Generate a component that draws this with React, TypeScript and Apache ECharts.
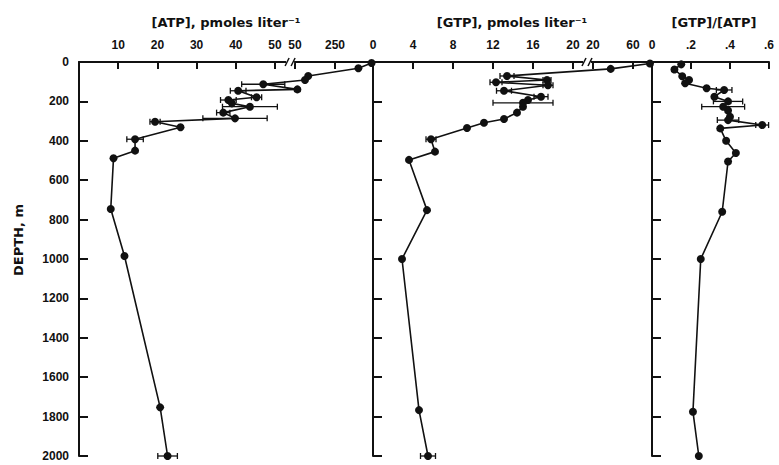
import React, { useEffect, useRef } from "react";
import * as echarts from "echarts";

// ---------- data ----------
const depthMin = 0;
const depthMax = 2000;
const depthStep = 200;

// ATP, pmoles/liter
const atpDepth = [5, 32, 71, 91, 113, 139, 146, 179, 193, 210, 227, 257, 286, 303, 331, 392, 450, 489, 746, 985, 1753, 2000];
const atpValue = [433, 367, 116, 100, 47.0, 62, 40.6, 45.3, 38.1, 39.0, 43.6, 36.8, 39.8, 19.4, 25.9, 14.3, 14.3, 8.8, 8.1, 11.6, 20.7, 22.6];
const atpErr = [0, 0, 0, 0, 5.5, 0, 2, 1.3, 2, 0, 7, 1.7, 8.2, 1.3, 0, 2.1, 0, 0, 0, 0, 0, 2.5];

// GTP, pmoles/liter
const gtpDepth = [8, 35, 71, 91, 103, 118, 146, 176, 193, 207, 227, 257, 289, 308, 335, 392, 455, 497, 752, 1000, 1767, 2000];
const gtpValue = [77, 37.7, 13.4, 17.4, 12.3, 17.5, 13.1, 16.8, 15.5, 15.0, 15.0, 14.4, 13.1, 11.1, 9.4, 5.8, 6.2, 3.6, 5.4, 2.9, 4.6, 5.5];
const gtpErr = [0, 0, 0.7, 0.4, 0.6, 0.5, 0.75, 0.7, 0, 3.0, 0, 0, 0, 0, 0, 0.5, 0, 0, 0, 0, 0, 0.75];

// GTP/ATP ratio
const ratioDepth = [12, 38, 72, 91, 108, 133, 142, 176, 200, 227, 246, 278, 295, 320, 337, 400, 462, 505, 760, 1000, 1775, 2000];
const ratioValue = [0.15, 0.115, 0.155, 0.19, 0.17, 0.28, 0.37, 0.32, 0.39, 0.365, 0.39, 0.40, 0.39, 0.565, 0.35, 0.38, 0.43, 0.39, 0.36, 0.25, 0.21, 0.24];
const ratioErr = [0, 0, 0, 0, 0, 0, 0.04, 0, 0.075, 0.11, 0, 0, 0.055, 0.033, 0, 0, 0, 0, 0, 0, 0, 0];

// tick labels of the broken axes
const atpLowerTicks = [10, 20, 30, 40, 50];
const atpUpperTicks = [50, 250];
const gtpLowerTicks = [0, 4, 8, 12, 16, 20];
const gtpUpperTicks = [20, 60];
const ratioTicks = [0, 0.2, 0.4, 0.6];

// ---------- broken-axis transforms ----------
const ATP_SPLIT = 53;
const ATP_UP0 = 55.1; // axis position of the upper segment's "50"
const ATP_UP_SCALE = 19.6; // value units per axis unit in upper segment
const ATP_MAX = 75;
const atpUp = (v: number) => ATP_UP0 + (v - 50) / ATP_UP_SCALE;
const tA = (v: number) => (v <= ATP_SPLIT ? v : atpUp(v));

const GTP_SPLIT = 21;
const GTP_UP0 = 22;
const GTP_UP_SCALE = 10;
const GTP_MAX = 27.9;
const gtpUp = (v: number) => GTP_UP0 + (v - 20) / GTP_UP_SCALE;
const tG = (v: number) => (v <= GTP_SPLIT ? v : gtpUp(v));

const atpTickPos = [...atpLowerTicks, ...atpUpperTicks.map(atpUp)];
const atpTickLab = [...atpLowerTicks, ...atpUpperTicks].map(String);
const gtpTickPos = [...gtpLowerTicks, ...gtpUpperTicks.map(gtpUp)];
const gtpTickLab = [...gtpLowerTicks, ...gtpUpperTicks].map(String);

const FONT = "Liberation Sans";
const TITLE_FONT = "DejaVu Sans";
const BLACK = "#111";

function lookup(pos: number[], lab: string[], v: number) {
  for (let i = 0; i < pos.length; i++) if (Math.abs(pos[i] - v) < 1e-6) return lab[i];
  return "";
}

const errRender = (params: any, api: any) => {
  const d = api.value(2);
  const lo = api.coord([api.value(0), d]);
  const hi = api.coord([api.value(1), d]);
  const h = 3;
  const st = { stroke: BLACK, lineWidth: 1.3 };
  return {
    type: "group",
    children: [
      { type: "line", shape: { x1: lo[0], y1: lo[1], x2: hi[0], y2: hi[1] }, style: st },
      { type: "line", shape: { x1: lo[0], y1: lo[1] - h, x2: lo[0], y2: lo[1] + h }, style: st },
      { type: "line", shape: { x1: hi[0], y1: hi[1] - h, x2: hi[0], y2: hi[1] + h }, style: st },
    ],
  };
};

function buildErr(depth: number[], val: number[], err: number[], tf: (v: number) => number) {
  const out: number[][] = [];
  depth.forEach((d, i) => {
    if (err[i] > 0) out.push([tf(val[i] - err[i]), tf(val[i] + err[i]), d]);
  });
  return out;
}

export default function App() {
  const ref = useRef<HTMLDivElement>(null);
  useEffect(() => {
    if (!ref.current) return;
    const chart = echarts.init(ref.current, undefined, { renderer: "svg" });

    const gridTop = 62;
    const gridH = 394;
    const grids = [
      { left: 79, top: gridTop, width: 294, height: gridH },
      { left: 373, top: gridTop, width: 279, height: gridH },
      { left: 652, top: gridTop, width: 117, height: gridH },
    ];

    const axisLine = { show: true, onZero: false, lineStyle: { color: BLACK, width: 2 } };
    const labelStyle = { color: BLACK, fontFamily: FONT, fontWeight: "bold" as const, fontSize: 12 };

    const yAxes = grids.map((_, i) => ({
      type: "value",
      gridIndex: i,
      inverse: true,
      min: depthMin,
      max: depthMax,
      interval: depthStep,
      position: "left",
      axisLine,
      axisTick: { show: true, inside: true, length: 9, lineStyle: { color: BLACK, width: 2 } },
      axisLabel:
        i === 0
          ? { show: true, margin: 10, ...labelStyle, showMinLabel: true, showMaxLabel: true, formatter: (v: number) => String(v) }
          : { show: false },
      splitLine: { show: false },
    }));

    const xCommon = {
      type: "value",
      position: "top",
      axisLine,
      splitLine: { show: false },
    };

    const xAxes = [
      {
        ...xCommon,
        gridIndex: 0,
        min: 0,
        max: ATP_MAX,
        axisTick: { show: true, inside: true, length: 7, customValues: atpTickPos, lineStyle: { color: BLACK, width: 2 } },
        axisLabel: {
          show: true,
          margin: 11,
          hideOverlap: false,
          customValues: atpTickPos,
          formatter: (v: number) => lookup(atpTickPos, atpTickLab, v),
          ...labelStyle,
        },
      },
      {
        ...xCommon,
        gridIndex: 1,
        min: 0,
        max: GTP_MAX,
        axisTick: { show: true, inside: true, length: 7, customValues: gtpTickPos.slice(1), lineStyle: { color: BLACK, width: 2 } },
        axisLabel: {
          show: true,
          margin: 11,
          hideOverlap: false,
          customValues: gtpTickPos,
          formatter: (v: number) => lookup(gtpTickPos, gtpTickLab, v),
          ...labelStyle,
        },
      },
      {
        ...xCommon,
        gridIndex: 2,
        min: 0,
        max: 0.6,
        axisTick: { show: true, inside: true, length: 7, customValues: ratioTicks.slice(1), lineStyle: { color: BLACK, width: 2 } },
        axisLabel: {
          show: true,
          margin: 11,
          hideOverlap: false,
          customValues: ratioTicks,
          formatter: (v: number) => (v === 0 ? "0" : "." + Math.round(v * 10)),
          ...labelStyle,
        },
      },
    ];

    const lineSeries = (idx: number, data: number[][]) => ({
      type: "line",
      xAxisIndex: idx,
      yAxisIndex: idx,
      data,
      symbol: "circle",
      symbolSize: 8,
      itemStyle: { color: BLACK },
      lineStyle: { color: BLACK, width: 1.6 },
      silent: true,
      z: 3,
    });
    const errSeries = (idx: number, data: number[][]) => ({
      type: "custom",
      xAxisIndex: idx,
      yAxisIndex: idx,
      data,
      renderItem: errRender,
      encode: { x: [0, 1], y: 2 },
      silent: true,
      z: 2,
    });

    chart.setOption({
      animation: false,
      backgroundColor: "#fff",
      grid: grids,
      xAxis: xAxes,
      yAxis: yAxes,
      series: [
        lineSeries(0, atpDepth.map((d, i) => [tA(atpValue[i]), d])),
        errSeries(0, buildErr(atpDepth, atpValue, atpErr, tA)),
        lineSeries(1, gtpDepth.map((d, i) => [tG(gtpValue[i]), d])),
        errSeries(1, buildErr(gtpDepth, gtpValue, gtpErr, tG)),
        lineSeries(2, ratioDepth.map((d, i) => [ratioValue[i], d])),
        errSeries(2, buildErr(ratioDepth, ratioValue, ratioErr, (v) => v)),
      ],
    });

    // break marks on the two broken axes
    const yTop = chart.convertToPixel({ yAxisIndex: 0 }, 0) as number;
    const bx1 = chart.convertToPixel({ xAxisIndex: 0 }, (ATP_SPLIT + ATP_UP0) / 2 - 0.2) as number;
    const bx2 = chart.convertToPixel({ xAxisIndex: 1 }, (GTP_SPLIT + GTP_UP0) / 2 - 0.1) as number;
    const breakMark = (x: number) => [
      { type: "rect", shape: { x: x - 4, y: yTop - 2, width: 8, height: 4 }, style: { fill: "#fff" }, z: 100 },
      { type: "line", shape: { x1: x - 5, y1: yTop + 4, x2: x - 1, y2: yTop - 4 }, style: { stroke: BLACK, lineWidth: 1.5 }, z: 101 },
      { type: "line", shape: { x1: x + 1, y1: yTop + 4, x2: x + 5, y2: yTop - 4 }, style: { stroke: BLACK, lineWidth: 1.5 }, z: 101 },
    ];
    const titleStyle = { fill: BLACK, fontFamily: TITLE_FONT, fontWeight: "bold", fontSize: 13, textAlign: "center", textVerticalAlign: "middle" };

    chart.setOption({
      graphic: [
        ...breakMark(bx1),
        ...breakMark(bx2),
        { type: "text", x: 226, y: 22, style: { ...titleStyle, text: "[ATP], pmoles liter⁻¹" } },
        { type: "text", x: 512, y: 22, style: { ...titleStyle, text: "[GTP], pmoles liter⁻¹" } },
        { type: "text", x: 714, y: 22, style: { ...titleStyle, text: "[GTP]/[ATP]" } },
        { type: "text", x: 18, y: 240, rotation: Math.PI / 2, style: { ...titleStyle, text: "DEPTH, m" } },
      ],
    });

    return () => chart.dispose();
  }, []);

  return (
    <div
      ref={ref}
      style={{ position: "absolute", left: 0, top: 0, width: 779, height: 465, background: "#fff" }}
    />
  );
}
